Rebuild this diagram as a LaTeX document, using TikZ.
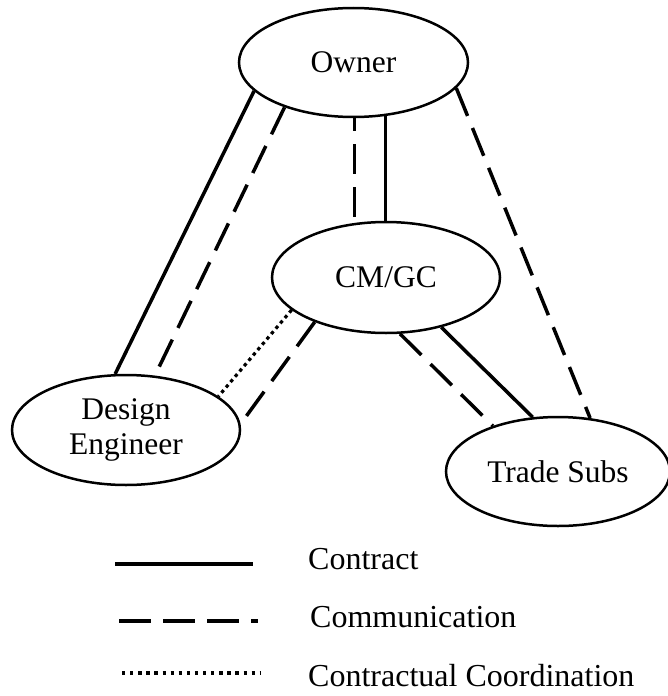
\documentclass[tikz,border=0pt]{standalone}
\usepackage{fontspec}
\setmainfont{Liberation Serif}
\usetikzlibrary{shapes.geometric}
\begin{document}
\begin{tikzpicture}[x=1pt,y=-1pt,
  party/.style={ellipse,draw,line width=2.5pt,inner sep=0pt,font=\fontsize{31.5}{35}\selectfont,align=center},
  contract/.style={line width=3.5pt},
  comm/.style={line width=3.5pt,dash pattern=on 30pt off 13pt},
  coordline/.style={line width=3.2pt,dash pattern=on 3.4pt off 3.6pt},
  legtext/.style={anchor=base west,font=\fontsize{32}{36}\selectfont,inner sep=0pt}]
\useasboundingbox (0,0) rectangle (668,696);
\node[party,minimum width=229pt,minimum height=109pt] (owner) at (353.5,62.5) {Owner};
\node[party,minimum width=228pt,minimum height=111pt] (cmgc) at (386,277.5) {CM/GC};
\node[party,minimum width=228pt,minimum height=110pt] (design) at (126,430) {Design\\Engineer};
\node[party,minimum width=224pt,minimum height=109pt] (trade) at (558,471.5) {Trade Subs};
% Owner - Design
\draw[contract] (owner.196) -- (design.101.3);
\draw[comm] (owner.213) -- (design.62.2);
% Owner - CM/GC
\draw[comm,dash phase=17pt] (owner.271.6) -- (owner.271.6 |- cmgc.120.1);
\draw[contract] (owner.301) -- (owner.301 |- cmgc.north);
% Owner - Trade
\draw[comm] (owner.346.8) -- (trade.59.6);
% CM/GC - Design
\draw[coordline] (cmgc.199) -- (design.20.1);
\draw[comm] (cmgc.212.8) -- (design.3.5);
% CM/GC - Trade
\draw[contract] (cmgc.318) -- (trade.115);
\draw[comm] (cmgc.284.4) -- (trade.145);
% Legend
\coordinate (l1a) at (115,564); \coordinate (l1b) at (253,564);
\coordinate (l2a) at (119,621); \coordinate (l2b) at (258,621);
\coordinate (l3a) at (122,673); \coordinate (l3b) at (260,673);
\draw[line width=4pt] (l1a) -- (l1b);
\draw[line width=4pt,dash pattern=on 32pt off 12pt] (l2a) -- (l2b);
\draw[line width=3.3pt,dash pattern=on 3.3pt off 4.8pt] (l3a) -- (l3b);
\node[legtext] (t1) at (308,569) {Contract};
\node[legtext] (t2) at (310,627) {Communication};
\node[legtext] (t3) at (308,686) {Contractual Coordination};
\end{tikzpicture}
\end{document}
